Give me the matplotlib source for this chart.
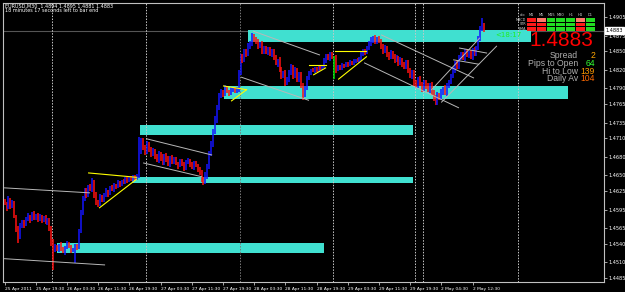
import numpy as np
import matplotlib.pyplot as plt
import matplotlib.transforms as mtransforms
from matplotlib.patches import Rectangle

# EURUSD M30 bars (one line per leg of the move)
first_open = 1.4608
closes = [
    1.4605, 1.4598, 1.4612, 1.4600, 1.4606,
    1.4585, 1.4565, 1.4550,
    1.4568, 1.4575, 1.4570,
    1.4580, 1.4585, 1.4578, 1.4588, 1.4582, 1.4586, 1.4579, 1.4584, 1.4577, 1.4582, 1.4575, 1.4580,
    1.4565, 1.4545, 1.4530,
    1.4535, 1.4530, 1.4538, 1.4532, 1.4527, 1.4534, 1.4540, 1.4536, 1.4529, 1.4531, 1.4537, 1.4533,
    1.4560, 1.4590, 1.4612,
    1.4625, 1.4618, 1.4632, 1.4628, 1.4640, 1.4620, 1.4608, 1.4604, 1.4615, 1.4612,
    1.4618, 1.4625, 1.4620, 1.4630, 1.4628, 1.4635, 1.4631, 1.4638, 1.4636, 1.4641, 1.4639, 1.4644, 1.4642,
    1.4646, 1.4643, 1.4648, 1.4645, 1.4650,
    1.4690, 1.4705, 1.4695, 1.4688, 1.4700, 1.4692, 1.4685,
    1.4690, 1.4680, 1.4675, 1.4685, 1.4678, 1.4670, 1.4682, 1.4676, 1.4668, 1.4679, 1.4672,
    1.4676, 1.4670, 1.4665, 1.4673, 1.4668, 1.4662, 1.4670, 1.4675, 1.4667, 1.4663, 1.4671, 1.4666, 1.4660,
    1.4655, 1.4645, 1.4640, 1.4650,
    1.4665, 1.4685, 1.4700,
    1.4720, 1.4740, 1.4760, 1.4778,
    1.4785, 1.4780, 1.4790, 1.4786, 1.4782, 1.4788, 1.4790, 1.4786, 1.4789,
    1.4815, 1.4840, 1.4835,
    1.4850, 1.4845, 1.4858, 1.4862,
    1.4875, 1.4870, 1.4866,
    1.4858, 1.4862, 1.4850, 1.4855, 1.4848, 1.4853, 1.4845, 1.4850,
    1.4840, 1.4830, 1.4835, 1.4820, 1.4810, 1.4815, 1.4800, 1.4805,
    1.4815, 1.4825, 1.4810, 1.4820, 1.4805, 1.4812,
    1.4795, 1.4780, 1.4790, 1.4805,
    1.4815, 1.4820, 1.4818, 1.4822, 1.4819, 1.4824, 1.4822, 1.4826,
    1.4835, 1.4842, 1.4838, 1.4845, 1.4840,
    1.4840, 1.4820,
    1.4825, 1.4822, 1.4828, 1.4826, 1.4830, 1.4828, 1.4832, 1.4830, 1.4834, 1.4836, 1.4834, 1.4838,
    1.4845, 1.4850, 1.4848, 1.4855,
    1.4862, 1.4868, 1.4872, 1.4865, 1.4870, 1.4866,
    1.4858, 1.4850, 1.4855, 1.4845, 1.4840, 1.4848, 1.4842,
    1.4835, 1.4840, 1.4830, 1.4836, 1.4828, 1.4825, 1.4832,
    1.4820, 1.4810, 1.4815, 1.4800, 1.4795,
    1.4805, 1.4798, 1.4790, 1.4800, 1.4794, 1.4788, 1.4796,
    1.4785, 1.4775, 1.4768, 1.4780, 1.4776,
    1.4785, 1.4790, 1.4782, 1.4795, 1.4800,
    1.4810, 1.4820, 1.4830, 1.4825, 1.4840,
    1.4845, 1.4838, 1.4850, 1.4843, 1.4848, 1.4840, 1.4852, 1.4846, 1.4855,
    1.4870, 1.4885, 1.4894, 1.4883,
]
# wick lengths in pips above / below the body
wick_up = [
    4, 3, 5, 2, 4,
    3, 2, 3,
    5, 4, 3,
    3, 4, 2, 3, 5, 2, 3, 4, 2, 3, 4, 2,
    2, 3, 2,
    4, 3, 2, 5, 3, 2, 4, 3, 2, 3, 2, 3,
    3, 4, 5,
    5, 4, 3, 4, 6, 3, 4, 3, 5, 4,
    3, 4, 2, 3, 4, 3, 2, 4, 3, 2, 3, 4, 3,
    2, 3, 2, 3, 2,
    22, 5, 6, 4, 5, 4, 3,
    4, 3, 5, 4, 3, 6, 3, 4, 5, 3, 4,
    3, 4, 2, 3, 4, 3, 5, 3, 2, 4, 3, 2, 3,
    3, 4, 3, 5,
    4, 5, 6,
    5, 6, 4, 5,
    4, 3, 5, 3, 2, 4, 3, 2, 3,
    4, 5, 6,
    4, 3, 5, 4,
    4, 3, 3,
    4, 3, 5, 3, 4, 3, 4, 3,
    3, 4, 3, 5, 4, 3, 4, 3,
    4, 5, 3, 4, 3, 4,
    4, 3, 4, 5,
    3, 2, 3, 2, 3, 2, 3, 2,
    4, 3, 4, 3, 4,
    2, 4,
    3, 2, 3, 2, 3, 2, 3, 2, 3, 2, 3, 2,
    3, 4, 3, 4,
    4, 5, 3, 4, 3, 4,
    4, 3, 5, 4, 3, 4, 3,
    3, 4, 3, 4, 3, 4, 3,
    4, 3, 5, 4, 3,
    4, 5, 3, 4, 3, 4, 3,
    4, 3, 4, 5, 3,
    4, 3, 5, 4, 3,
    4, 5, 4, 5, 4,
    3, 4, 3, 4, 3, 4, 3, 4, 3,
    4, 5, 9, 1,
]
wick_dn = [
    3, 5, 2, 4, 3,
    4, 6, 9,
    3, 2, 4,
    2, 3, 4, 2, 3, 3, 4, 2, 3, 2, 3, 4,
    5, 8, 32,
    3, 2, 4, 3, 2, 5, 3, 2, 4, 3, 22, 3,
    2, 3, 3,
    3, 4, 2, 3, 4, 6, 5, 5, 3, 4,
    4, 3, 5, 2, 3, 4, 3, 2, 4, 3, 2, 3, 4,
    3, 2, 4, 3, 2,
    4, 6, 4, 5, 3, 4, 5,
    3, 4, 3, 5, 4, 3, 4, 5, 3, 4, 3,
    4, 3, 4, 2, 3, 5, 3, 2, 4, 3, 4, 3, 4,
    4, 5, 5, 3,
    5, 4, 3,
    4, 3, 5, 4,
    3, 4, 2, 3, 4, 2, 3, 4, 3,
    4, 3, 4,
    3, 5, 3, 4,
    3, 5, 4,
    4, 3, 4, 5, 3, 4, 3, 4,
    4, 3, 5, 4, 5, 3, 6, 4,
    5, 4, 5, 3, 4, 5,
    5, 9, 4, 3,
    2, 3, 2, 3, 2, 3, 2, 3,
    3, 4, 3, 4, 3,
    35, 5,
    2, 3, 2, 3, 2, 3, 2, 3, 2, 3, 2, 3,
    4, 3, 4, 3,
    3, 4, 5, 3, 4, 3,
    4, 5, 3, 4, 5, 3, 4,
    4, 3, 4, 3, 4, 3, 4,
    5, 4, 5, 6, 5,
    5, 4, 5, 4, 5, 4, 5,
    5, 6, 5, 4, 5,
    4, 5, 3, 4, 5,
    3, 4, 5, 4, 3,
    4, 3, 4, 3, 4, 3, 4, 3, 4,
    3, 4, 3, 2,
]

time_labels = ["25 Apr 2011", "25 Apr 19:30", "26 Apr 03:30", "26 Apr 11:30", "26 Apr 19:30",
               "27 Apr 03:30", "27 Apr 11:30", "27 Apr 19:30", "28 Apr 03:30", "28 Apr 11:30",
               "28 Apr 19:30", "29 Apr 03:30", "29 Apr 11:30", "29 Apr 19:30", "2 May 04:30",
               "2 May 12:30"]
price_labels = [1.4905, 1.4875, 1.4850, 1.4820, 1.4790, 1.4765, 1.4735, 1.4710, 1.4680,
                1.4650, 1.4625, 1.4595, 1.4565, 1.4540, 1.4510, 1.4485]
separators = [24.5, 72.5, 120.5, 168.5, 210.5, 214.5, 263.5]
bid = 1.4883

# supply/demand zones (bar index from-to, price hi-lo)
zone_from = [124.6, 112.3, 69.2, 65.1, 26.7]
zone_to = [270, 289, 209.7, 209.7, 163.6]
zone_hi = [1.4884, 1.4794, 1.4731, 1.4648, 1.4541]
zone_lo = [1.4865, 1.4773, 1.4715, 1.4638, 1.4525]

# channel lines
chan_i0 = [0, 0, 72.8, 71.3, 127.7, 121.5, 193.3, 184.6, 224.1, 219.0, 233.3, 230.3]
chan_p0 = [1.4630, 1.4516, 1.4709, 1.4670, 1.4882, 1.4808, 1.4876, 1.4831, 1.4768, 1.4788, 1.4855, 1.4836]
chan_i1 = [43.6, 51.3, 106.2, 101.0, 161.5, 155.9, 240.5, 232.8, 252.3, 243.6, 247.2, 243.1]
chan_p1 = [1.4622, 1.4506, 1.4683, 1.4648, 1.4844, 1.4771, 1.4807, 1.4759, 1.4858, 1.4871, 1.4847, 1.4829]

# triangle sides
tri_i0 = [43.1, 48.7, 112.3, 116.4, 155.9, 158.5, 169.2, 171.3]
tri_p0 = [1.4654, 1.4598, 1.4794, 1.4770, 1.4828, 1.4812, 1.4850, 1.4805]
tri_i1 = [67.7, 67.7, 124.1, 124.1, 164.6, 164.6, 185.6, 185.6]
tri_p1 = [1.4647, 1.4644, 1.4788, 1.4788, 1.4828, 1.4823, 1.4850, 1.4841]

# signal panel
frames = ["M1", "M5", "M15", "M30", "H1", "H4", "D1"]
rows = ["MACD", "STR", "EMA"]
cell_colors = [
    ["#ff1a1a", "#ff7a6a", "#22dd22", "#22dd22", "#22dd22", "#ff7a6a", "#22dd22"],
    ["#ff1a1a", "#ff1a1a", "#22dd22", "#22dd22", "#22dd22", "#ff1a1a", "#22dd22"],
    ["#ff1a1a", "#ff1a1a", "#22dd22", "#22dd22", "#22dd22", "#ff1a1a", "#22dd22"],
]
info_names = ["Spread", "Pips to Open", "Hi to Low", "Daily Av"]
info_values = ["2", "64", "139", "104"]
info_colors = ["#ffa500", "#33ff33", "#ff9900", "#ff6a00"]

closes = np.array(closes)
opens = np.concatenate([[first_open], closes[:-1]])
highs = np.maximum(opens, closes) + np.array(wick_up) / 10000
lows = np.minimum(opens, closes) - np.array(wick_dn) / 10000
idx = np.arange(len(closes))
bar_cols = np.where(closes > opens, "#1414ff", np.where(closes < opens, "#ff1010", "#00e000"))

W, H = 625, 292
fig = plt.figure(figsize=(W / 100, H / 100), dpi=100, facecolor="black")
ax = fig.add_axes([3 / W, 10 / H, 601 / W, 279 / H], facecolor="black")
ax.set_xlim(-0.8, 307.4)
ax.set_ylim(1.44785, 1.49275)

ax.axhline(bid, color="#555555", lw=0.8, zorder=1)
for a, b, hi, lo in zip(zone_from, zone_to, zone_hi, zone_lo):
    ax.add_patch(Rectangle((a, lo), b - a, hi - lo, facecolor="#40e0d0", edgecolor="none", zorder=2))
for s in separators:
    ax.axvline(s, color="#c8c8c8" if s != 120.5 else "#7a7a7a", lw=0.7, ls=(0, (1.5, 1.5)), zorder=3)

ax.vlines(idx, lows, highs, colors=bar_cols, lw=1.1, zorder=4)

for a, pa, b, pb in zip(chan_i0, chan_p0, chan_i1, chan_p1):
    ax.plot([a, b], [pa, pb], color="#b8b8b8", lw=0.7, zorder=5)
for a, pa, b, pb in zip(tri_i0, tri_p0, tri_i1, tri_p1):
    ax.plot([a, b], [pa, pb], color="#ffff00", lw=0.8, zorder=5)

for sp in ax.spines.values():
    sp.set_color("#c0c0c0")
    sp.set_linewidth(0.8)
ax.yaxis.tick_right()
ax.set_yticks(price_labels)
ax.set_yticklabels([f"{v:.4f}" for v in price_labels])
ax.set_xticks(np.arange(len(time_labels)) * 16)
ax.set_xticklabels(time_labels, ha="left")
ax.tick_params(colors="#c0c0c0", labelcolor="white", length=2, width=0.6, pad=1.5)
ax.tick_params(axis="y", labelsize=3.6)
ax.tick_params(axis="x", labelsize=3.2)

# current price box on the axis
tr = mtransforms.blended_transform_factory(ax.transAxes, ax.transData)
ax.text(1.003, bid, f"{bid:.4f}", transform=tr, fontsize=3.6, color="black", va="center", ha="left",
        bbox=dict(boxstyle="square,pad=0.15", facecolor="white", edgecolor="white"), zorder=10)

def fx(px):
    return px / W

def fy(py):
    return 1 - py / H

fig.text(fx(5), fy(6), "EURUSD,M30  1.4894 1.4895 1.4881 1.4883", color="white", fontsize=3.5, va="center")
fig.text(fx(5), fy(11), "18 minutes 17 seconds left to bar end", color="white", fontsize=3.5, va="center")

# indicator grid
for r, row in enumerate(cell_colors):
    for c, col in enumerate(row):
        fig.patches.append(Rectangle((fx(527 + c * 9.8), fy(18 + r * 4.4 + 4)), 8.8 / W, 3.8 / H,
                                     facecolor=col, edgecolor="none", transform=fig.transFigure, figure=fig))
for c, name in enumerate(frames):
    fig.text(fx(531.5 + c * 9.8), fy(15), name, color="#d0d0d0", fontsize=2.6, ha="center", va="center")
fig.text(fx(522), fy(15), "c/o", color="#d0d0d0", fontsize=2.6, ha="center", va="center")
for r, name in enumerate(rows):
    fig.text(fx(526), fy(20 + r * 4.4), name, color="#d0d0d0", fontsize=2.4, ha="right", va="center")

fig.text(fx(495), fy(35), "<18:17", color="#22ee22", fontsize=5, va="center", ha="left")
fig.text(fx(593), fy(41), f"{bid:.4f}", color="#ff0000", fontsize=15, va="center", ha="right",
         family="Liberation Sans")
for k, (nm, val, col) in enumerate(zip(info_names, info_values, info_colors)):
    y = fy(56 + k * 7.5)
    fig.text(fx(578), y, nm, color="#b0b0b0", fontsize=6.2, ha="right", va="center", family="Liberation Sans")
    fig.text(fx(595), y, val, color=col, fontsize=6.2, ha="right", va="center", family="Liberation Sans")

fig.savefig("out.png", dpi=100, facecolor="black")
